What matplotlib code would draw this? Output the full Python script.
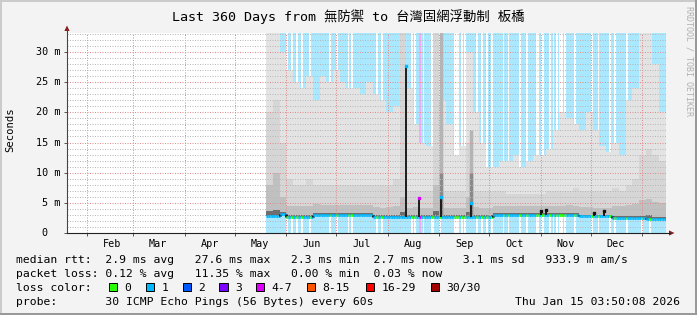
import datetime as dt
import numpy as np
import matplotlib
matplotlib.use("Agg")
import matplotlib.pyplot as plt
import matplotlib.dates as mdates
from matplotlib.collections import LineCollection
from matplotlib.patches import Rectangle, Polygon
from matplotlib.colors import to_rgb

MONO = ["DejaVu Sans Mono", "Noto Sans CJK TC"]
plt.rcParams["font.family"] = MONO

W, H = 697, 315
X0, X1, Y0, Y1 = 67, 666, 233, 33      # canvas corners in pixels
Y_TOP = 33.15                           # ms at top of canvas

end_time = dt.datetime(2026, 1, 15, 3, 50, 8)
start_time = end_time - dt.timedelta(days=360)
data_start = dt.datetime(2025, 5, 20)
n_days = 240

# smoke per 4-day bucket from 2025-05-20 (ms)
median_ms = [
    2.8, 2.8, 3.1, 2.65, 2.65, 2.65, 2.65, 3.05, 3.05, 3.05,
    3.05, 3.05, 3.05, 3.05, 3.05, 3.05, 2.7, 2.7, 2.7, 2.7,
    2.7, 2.7, 2.7, 2.7, 2.7, 2.7, 2.7, 2.7, 2.7, 2.7,
    2.7, 2.7, 2.7, 2.7, 3.0, 3.0, 3.0, 3.0, 3.0, 3.0,
    3.0, 3.0, 3.0, 3.0, 3.0, 3.0, 3.0, 2.75, 2.75, 2.75,
    2.75, 2.75, 2.5, 2.5, 2.5, 2.5, 2.5, 2.3, 2.35, 2.4,
]
smoke_top = [
    33.5, 33.5, 30, 27, 25, 24, 26, 22, 26, 25,
    27, 25, 24, 24, 23, 25, 23, 22, 20, 21,
    33.5, 24, 18, 15, 14.5, 33.5, 22, 18, 13, 14.5,
    30, 20, 15, 11, 11, 12, 12, 13, 11, 12,
    13, 13, 14, 17, 20, 19, 18, 17, 20, 17,
    14.5, 13.5, 15, 13, 22, 24, 33.5, 33.5, 28, 20,
]
smoke_mid = [
    20, 22, 15, 9, 8, 8, 9, 8, 8, 8,
    8, 8, 8, 8, 8, 8, 8, 8, 8, 9,
    33.5, 7, 7, 7, 7, 33.5, 7, 7, 7, 7,
    15, 7, 7, 7, 7, 7, 6.5, 6.5, 6.5, 6.5,
    6.5, 6.5, 7, 7, 7, 7, 7.5, 7, 7, 7,
    7, 7, 7.5, 7, 8, 9, 13, 14, 13, 12,
]
smoke_low = [
    8, 10, 6, 4.5, 4.4, 4.4, 4.5, 4.8, 4.7, 4.7,
    4.6, 4.7, 4.6, 4.6, 4.7, 4.6, 4.3, 4.2, 4.3, 4.4,
    6, 4.2, 4.3, 4.2, 4.2, 8, 4.2, 4.2, 4.1, 4.2,
    6, 4.3, 4.2, 4.2, 4.4, 4.4, 4.4, 4.5, 4.5, 4.4,
    4.4, 4.5, 4.5, 4.4, 4.5, 4.6, 4.4, 4.3, 4.3, 4.2,
    4.2, 4.2, 4.4, 4.5, 4.6, 4.8, 5.5, 5.6, 5.2, 5.0,
]
smoke_dark = [
    3.6, 3.8, 3.5, 2.95, 2.95, 2.95, 2.95, 3.35, 3.35, 3.35,
    3.35, 3.35, 3.35, 3.35, 3.35, 3.35, 3.0, 3.0, 3.0, 3.0,
    3.4, 3.0, 3.0, 3.0, 3.0, 3.6, 3.0, 3.0, 3.0, 3.0,
    3.4, 3.0, 3.0, 3.0, 3.3, 3.3, 3.3, 3.3, 3.3, 3.3,
    3.3, 3.3, 3.3, 3.3, 3.3, 3.3, 3.3, 3.05, 3.05, 3.05,
    3.05, 3.05, 2.8, 2.8, 2.8, 2.8, 2.9, 3.0, 2.7, 2.7,
]

# days without loss (white columns) and the one 4-7 loss day
no_loss_days = [
    "2025-06-01", "2025-06-04", "2025-06-07", "2025-06-10", "2025-06-15",
    "2025-06-27", "2025-07-01", "2025-07-08", "2025-07-10", "2025-07-25",
    "2025-07-28", "2025-08-15", "2025-08-17", "2025-08-22", "2025-08-27",
    "2025-08-28", "2025-09-01", "2025-09-10", "2025-09-11", "2025-09-12",
    "2025-09-14", "2025-09-16", "2025-09-23", "2025-09-26", "2025-09-29",
    "2025-10-02", "2025-10-09", "2025-10-12", "2025-10-19", "2025-10-23",
    "2025-10-29", "2025-10-30", "2025-11-01", "2025-11-02", "2025-11-06",
    "2025-11-08", "2025-11-10", "2025-11-12", "2025-11-13", "2025-11-15",
    "2025-11-21", "2025-12-01", "2025-12-05", "2025-12-12", "2025-12-15",
    "2025-12-22", "2025-12-31", "2026-01-05",
]
loss_4_7_days = ["2025-08-20"]

# median spikes
spike_dates = ["2025-08-12", "2025-08-20", "2025-09-02", "2025-09-20",
               "2025-11-01", "2025-11-04", "2025-12-03", "2025-12-09"]
spike_peak = [27.6, 5.8, 6.0, 5.0, 3.7, 3.8, 3.3, 3.6]
spike_haze = [0, 0, 33.5, 17, 0, 0, 0, 0]
spike_dot = ["#00b8ff", "#dd00ff", "#00b8ff", "#00b8ff",
             "#111111", "#111111", "#111111", "#111111"]

loss_labels = ["0", "1", "2", "3", "4-7", "8-15", "16-29", "30/30"]
loss_colors = ["#26ff00", "#00b8ff", "#0059ff", "#7e00ff",
               "#dd00ff", "#ff5500", "#ff0000", "#a10000"]
bg_colors = {0: "#ffffff", 1: "#aae8ff", 4: "#f6aaff"}

# ---- per day loss class
day_dates = [data_start + dt.timedelta(days=d) for d in range(n_days + 1)]
loss_class = [1] * n_days
for s in no_loss_days:
    loss_class[(dt.datetime.fromisoformat(s) - data_start).days] = 0
for s in loss_4_7_days:
    loss_class[(dt.datetime.fromisoformat(s) - data_start).days] = 4

fig = plt.figure(figsize=(W / 100, H / 100), dpi=100, facecolor="#f3f3f3")
ax = fig.add_axes([X0 / W, 1 - Y0 / H, (X1 - X0) / W, (Y0 - Y1) / H])
ax.set_facecolor("white")

xs = mdates.date2num(day_dates)
t0, t1 = mdates.date2num([start_time, end_time])
ax.set_xlim(t0, t1)
ax.set_ylim(0, Y_TOP)

# loss background
bg = np.array([[to_rgb(bg_colors[c]) for c in loss_class]])
ax.imshow(bg, extent=[xs[0], xs[-1], 0, Y_TOP], aspect="auto",
          interpolation="nearest", zorder=0)

# smoke
bx = mdates.date2num([data_start + dt.timedelta(days=4 * i) for i in range(61)])
def ext(a):
    return list(a) + [a[-1]]
med_e = ext(median_ms)
for arr, col in [(smoke_top, "#e3e3e3"), (smoke_mid, "#d6d6d6"),
                 (smoke_low, "#c0c0c0"), (smoke_dark, "#6e6e6e")]:
    ax.fill_between(bx, med_e, ext(arr), step="post", color=col, lw=0, zorder=1)

# spikes
for s, pk, hz, dc in zip(spike_dates, spike_peak, spike_haze, spike_dot):
    d = dt.datetime.fromisoformat(s)
    xd = mdates.date2num(d)
    m = median_ms[(d - data_start).days // 4]
    if hz:
        ax.vlines(xd, m, hz, color="#b4b4b4", lw=2.5, zorder=1.2)
        ax.vlines(xd, m, min(hz, 10), color="#8a8a8a", lw=2.5, zorder=1.3)
    ax.vlines(xd, m, pk, color="#1c1c1c", lw=1.4, zorder=3.2)
    ax.plot([xd], [pk], marker="s", ms=1.6, color=dc, mec=dc, zorder=3.3)

# median line coloured by loss
segs, cols = [], []
for d in range(n_days):
    y = median_ms[d // 4]
    c = loss_colors[loss_class[d]]
    if d > 0 and median_ms[(d - 1) // 4] != y:
        segs.append([(xs[d], median_ms[(d - 1) // 4]), (xs[d], y)])
        cols.append("#111111")
    segs.append([(xs[d], y), (xs[d + 1], y)])
    cols.append(c)
ax.add_collection(LineCollection(segs, colors=cols, linewidths=2.0,
                                 capstyle="butt", zorder=3))

# grid
ax.set_axisbelow(False)
ax.set_yticks(np.arange(0, 31, 5))
ax.set_yticks(np.arange(0, 34, 1), minor=True)
ax.xaxis.set_major_locator(mdates.MonthLocator())
ax.xaxis.set_major_formatter(plt.NullFormatter())
ax.xaxis.set_minor_locator(mdates.MonthLocator(bymonthday=16))
ax.xaxis.set_minor_formatter(mdates.DateFormatter("%b"))
ax.grid(which="major", color="#e08c8c", lw=0.72, ls=(0, (1, 1.5)), snap=True)
ax.grid(which="minor", axis="y", color="#b8b8b8", lw=0.72, ls=(0, (1, 1.5)),
        snap=True)
ax.tick_params(axis="x", which="major", length=2, width=0.7, color="#555555")
ax.tick_params(axis="x", which="minor", length=0, pad=4.5, labelsize=7.3)
ax.tick_params(axis="y", which="major", length=2, width=0.7,
               color="#555555", labelleft=False)
ax.tick_params(axis="y", which="minor", length=0)
for sp in ax.spines.values():
    sp.set_visible(False)

ytr = ax.get_yaxis_transform()
for v in range(0, 31, 5):
    lab = "0" if v == 0 else f"{v} m"
    xo = -20 / (X1 - X0) if v == 0 else -7 / (X1 - X0)
    ax.text(xo, v, lab, transform=ytr, ha="right", va="center",
            fontsize=7.3, family=MONO)

# ---- overlay in pixel coordinates
ov = fig.add_axes([0, 0, 1, 1], zorder=10)
ov.set_xlim(0, W)
ov.set_ylim(H, 0)
ov.axis("off")
ov.patch.set_alpha(0)

ov.add_patch(Rectangle((0, 0), W, 2, color="#cbcbcb", lw=0))
ov.add_patch(Rectangle((0, 0), 2, H, color="#cbcbcb", lw=0))
ov.add_patch(Rectangle((0, H - 2), W, 2, color="#999999", lw=0))
ov.add_patch(Rectangle((W - 2, 0), 2, H, color="#999999", lw=0))

ov.plot([X0, X0], [Y0, 30], color="#444444", lw=0.8)
ov.plot([X0, 670], [Y0, Y0], color="#222222", lw=0.8)
ov.add_patch(Polygon([(X0 - 2.6, 31), (X0 + 2.6, 31), (X0, 25.5)],
                     color="#8b1c1c", lw=0))
ov.add_patch(Polygon([(669, Y0 - 2.6), (669, Y0 + 2.6), (674.5, Y0)],
                     color="#8b1c1c", lw=0))

ov.text(348, 20.5, "Last 360 Days from 無防禦 to 台灣固網浮動制 板橋",
        ha="center", va="baseline", fontsize=9.6, family=MONO)
ov.text(10, 130, "Seconds", rotation=90, ha="center", va="center",
        fontsize=7.6, family=MONO)
ov.text(689, 6, "RRDTOOL / TOBI OETIKER", rotation=270, ha="center",
        va="top", fontsize=6, color="#b0b0b0", family=MONO)

lf = 8.2
ov.text(16, 263, "median rtt:  2.9 ms avg   27.6 ms max   2.3 ms min  "
        "2.7 ms now   3.1 ms sd   933.9 m am/s",
        va="baseline", fontsize=lf, family=MONO)
ov.text(16, 277, "packet loss: 0.12 % avg   11.35 % max   0.00 % min  "
        "0.03 % now", va="baseline", fontsize=lf, family=MONO)
ov.text(16, 291, "loss color:", va="baseline", fontsize=lf, family=MONO)
sq_x = [108.5, 145.7, 182.7, 219.3, 256, 306.7, 365.7, 430.7]
for sx, lab, col in zip(sq_x, loss_labels, loss_colors):
    ov.add_patch(Rectangle((sx, 282.8), 8.3, 8.3, fc=col, ec="black", lw=0.7))
    ov.text(sx + 15.5, 291, lab, va="baseline", fontsize=lf, family=MONO)
ov.text(16, 305, "probe:       30 ICMP Echo Pings (56 Bytes) every 60s",
        va="baseline", fontsize=lf, family=MONO)
ov.text(680, 305, "Thu Jan 15 03:50:08 2026", ha="right", va="baseline",
        fontsize=lf, family=MONO)

fig.savefig("out.png", dpi=100, facecolor=fig.get_facecolor())
